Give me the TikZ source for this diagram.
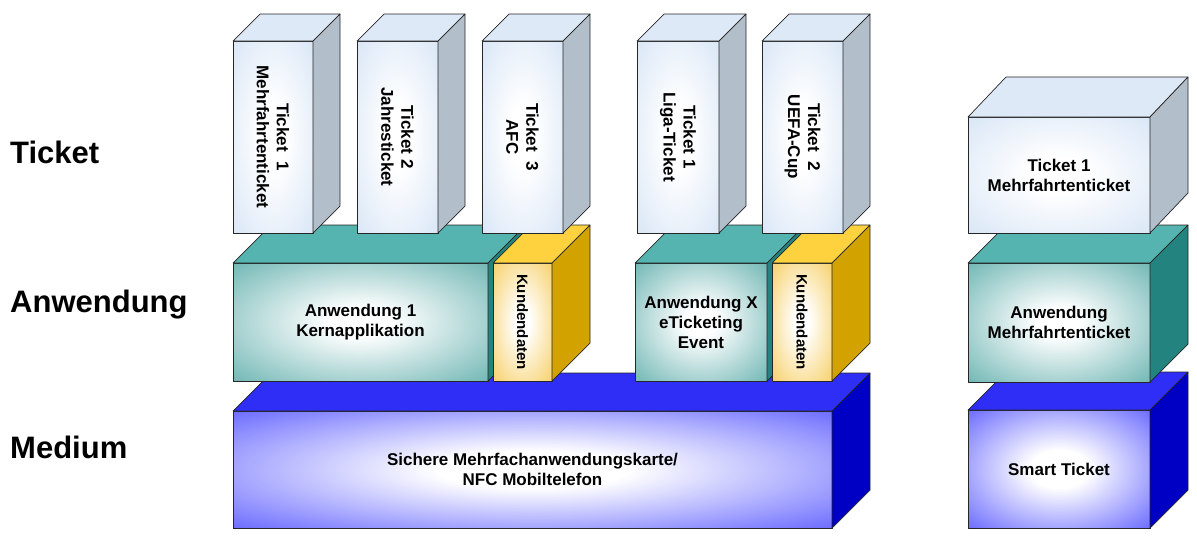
\documentclass[tikz,border=0pt]{standalone}
\usepackage{fontspec}
\setmainfont{Liberation Sans}
\usetikzlibrary{positioning}

\definecolor{ticketEdge}{HTML}{C6DAF2}
\definecolor{ticketTop}{HTML}{DDE9F7}
\definecolor{ticketSide}{HTML}{B3BECB}
\definecolor{appEdge}{HTML}{2C9490}
\definecolor{appTop}{HTML}{55B4AF}
\definecolor{appSide}{HTML}{23847F}
\definecolor{dataEdge}{HTML}{F3BA22}
\definecolor{dataTop}{HTML}{FDD23E}
\definecolor{dataSide}{HTML}{D2A300}
\definecolor{mediumEdge}{HTML}{1E1EFF}
\definecolor{mediumTop}{HTML}{2E2EF7}
\definecolor{mediumSide}{HTML}{0000C4}

\pgfdeclareradialshading{ticketglow}{\pgfpoint{0bp}{0bp}}{color(0bp)=(white); color(8bp)=(white); color(50bp)=(ticketEdge); color(75bp)=(ticketEdge)}
\pgfdeclareradialshading{appglow}{\pgfpoint{0bp}{0bp}}{color(0bp)=(white); color(6bp)=(white); color(50bp)=(appEdge); color(75bp)=(appEdge)}
\pgfdeclareradialshading{dataglow}{\pgfpoint{0bp}{0bp}}{color(0bp)=(white); color(6bp)=(white); color(50bp)=(dataEdge); color(75bp)=(dataEdge)}
\pgfdeclareradialshading{mediumglow}{\pgfpoint{0bp}{0bp}}{color(0bp)=(white); color(8bp)=(white); color(50bp)=(mediumEdge); color(75bp)=(mediumEdge)}

\begin{document}
\begin{tikzpicture}[
    x=1pt, y=-1pt,
    face/.style={draw=black!85, line width=0.7pt, line join=round},
    front/.style={face, rectangle, anchor=north west, inner sep=0pt, outer sep=0pt, shade, align=center, font=\bfseries\fontsize{17}{20}\selectfont},
    ticket/.style={front, shading=ticketglow},
    app/.style={front, shading=appglow},
    data/.style={front, shading=dataglow},
    medium/.style={front, shading=mediumglow},
    vtext/.style={rotate=-90, align=center, font=\bfseries\fontsize{17}{20}\selectfont},
    layer_label/.style={anchor=base west, inner sep=0pt, font=\bfseries\fontsize{31}{36}\selectfont}
]
\useasboundingbox (0,0) rectangle (1197,536);

% --- Layer labels ---
\node (lbl_ticket) [layer_label] at (10,163) {Ticket};
\node (lbl_app) [layer_label] at (10,312) {Anwendung};
\node (lbl_medium) [layer_label] at (10,458) {Medium};

% --- Medium (bottom) ---
\node (card) [medium, minimum width=599pt, minimum height=117pt] at (233,411) {Sichere Mehrfachanwendungskarte/\\NFC Mobiltelefon};
\draw [face, fill=mediumTop] (card.north west) -- ++(38,-38) -- ([shift={(38,-38)}]card.north east) -- (card.north east) -- cycle;
\draw [face, fill=mediumSide] (card.north east) -- ++(38,-38) -- ([shift={(38,-38)}]card.south east) -- (card.south east) -- cycle;

% --- Anwendung (middle) ---
\node (app1) [app, minimum width=255pt, minimum height=118pt] at (233,263) {Anwendung 1\\Kernapplikation};
\draw [face, fill=appTop] (app1.north west) -- ++(38,-38) -- ([shift={(38,-38)}]app1.north east) -- (app1.north east) -- cycle;
\draw [face, fill=appSide] (app1.north east) -- ++(38,-38) -- ([shift={(38,-38)}]app1.south east) -- (app1.south east) -- cycle;

\node (kd1) [data, minimum width=59pt, minimum height=118pt] at (493,263) {};
\draw [face, fill=dataTop] (kd1.north west) -- ++(38,-38) -- ([shift={(38,-38)}]kd1.north east) -- (kd1.north east) -- cycle;
\draw [face, fill=dataSide] (kd1.north east) -- ++(38,-38) -- ([shift={(38,-38)}]kd1.south east) -- (kd1.south east) -- cycle;
\node (kd1_txt) [vtext, font=\bfseries\fontsize{15}{18}\selectfont] at (kd1.center) {Kundendaten};

\node (appx) [app, minimum width=132pt, minimum height=118pt] at (635,263) {Anwendung X\\eTicketing\\Event};
\draw [face, fill=appTop] (appx.north west) -- ++(38,-38) -- ([shift={(38,-38)}]appx.north east) -- (appx.north east) -- cycle;
\draw [face, fill=appSide] (appx.north east) -- ++(38,-38) -- ([shift={(38,-38)}]appx.south east) -- (appx.south east) -- cycle;

\node (kd2) [data, minimum width=60pt, minimum height=118pt] at (772,263) {};
\draw [face, fill=dataTop] (kd2.north west) -- ++(38,-38) -- ([shift={(38,-38)}]kd2.north east) -- (kd2.north east) -- cycle;
\draw [face, fill=dataSide] (kd2.north east) -- ++(38,-38) -- ([shift={(38,-38)}]kd2.south east) -- (kd2.south east) -- cycle;
\node (kd2_txt) [vtext, font=\bfseries\fontsize{15}{18}\selectfont] at (kd2.center) {Kundendaten};

% --- Tickets (top) ---
\node (tk1) [ticket, minimum width=80pt, minimum height=192pt] at (233,41) {};
\draw [face, fill=ticketTop] (tk1.north west) -- ++(27,-27) -- ([shift={(27,-27)}]tk1.north east) -- (tk1.north east) -- cycle;
\draw [face, fill=ticketSide] (tk1.north east) -- ++(27,-27) -- ([shift={(27,-27)}]tk1.south east) -- (tk1.south east) -- cycle;
\node (tk1_txt) [vtext] at (tk1.center) {Ticket~~1\\Mehrfahrtenticket};

\node (tk2) [ticket, minimum width=81pt, minimum height=192pt] at (357,41) {};
\draw [face, fill=ticketTop] (tk2.north west) -- ++(27,-27) -- ([shift={(27,-27)}]tk2.north east) -- (tk2.north east) -- cycle;
\draw [face, fill=ticketSide] (tk2.north east) -- ++(27,-27) -- ([shift={(27,-27)}]tk2.south east) -- (tk2.south east) -- cycle;
\node (tk2_txt) [vtext] at (tk2.center) {Ticket 2\\Jahresticket};

\node (tk3) [ticket, minimum width=81pt, minimum height=192pt] at (482,41) {};
\draw [face, fill=ticketTop] (tk3.north west) -- ++(27,-27) -- ([shift={(27,-27)}]tk3.north east) -- (tk3.north east) -- cycle;
\draw [face, fill=ticketSide] (tk3.north east) -- ++(27,-27) -- ([shift={(27,-27)}]tk3.south east) -- (tk3.south east) -- cycle;
\node (tk3_txt) [vtext] at (tk3.center) {Ticket~~3\\AFC};

\node (tk4) [ticket, minimum width=82pt, minimum height=192pt] at (637,41) {};
\draw [face, fill=ticketTop] (tk4.north west) -- ++(27,-27) -- ([shift={(27,-27)}]tk4.north east) -- (tk4.north east) -- cycle;
\draw [face, fill=ticketSide] (tk4.north east) -- ++(27,-27) -- ([shift={(27,-27)}]tk4.south east) -- (tk4.south east) -- cycle;
\node (tk4_txt) [vtext] at (tk4.center) {Ticket 1\\Liga-Ticket};

\node (tk5) [ticket, minimum width=81pt, minimum height=192pt] at (762,41) {};
\draw [face, fill=ticketTop] (tk5.north west) -- ++(27,-27) -- ([shift={(27,-27)}]tk5.north east) -- (tk5.north east) -- cycle;
\draw [face, fill=ticketSide] (tk5.north east) -- ++(27,-27) -- ([shift={(27,-27)}]tk5.south east) -- (tk5.south east) -- cycle;
\node (tk5_txt) [vtext] at (tk5.center) {Ticket~~2\\UEFA-Cup};

% --- Right stack: Smart Ticket ---
\node (smart) [medium, minimum width=182pt, minimum height=118pt] at (968,410) {Smart Ticket};
\draw [face, fill=mediumTop] (smart.north west) -- ++(38,-38) -- ([shift={(38,-38)}]smart.north east) -- (smart.north east) -- cycle;
\draw [face, fill=mediumSide] (smart.north east) -- ++(38,-38) -- ([shift={(38,-38)}]smart.south east) -- (smart.south east) -- cycle;

\node (app_r) [app, minimum width=182pt, minimum height=119pt] at (968,263) {Anwendung\\Mehrfahrtenticket};
\draw [face, fill=appTop] (app_r.north west) -- ++(38,-38) -- ([shift={(38,-38)}]app_r.north east) -- (app_r.north east) -- cycle;
\draw [face, fill=appSide] (app_r.north east) -- ++(38,-38) -- ([shift={(38,-38)}]app_r.south east) -- (app_r.south east) -- cycle;

\node (tk_r) [ticket, minimum width=182pt, minimum height=116pt] at (968,117) {Ticket 1\\Mehrfahrtenticket};
\draw [face, fill=ticketTop] (tk_r.north west) -- ++(38,-40) -- ([shift={(38,-40)}]tk_r.north east) -- (tk_r.north east) -- cycle;
\draw [face, fill=ticketSide] (tk_r.north east) -- ++(38,-40) -- ([shift={(38,-40)}]tk_r.south east) -- (tk_r.south east) -- cycle;

\end{tikzpicture}
\end{document}
